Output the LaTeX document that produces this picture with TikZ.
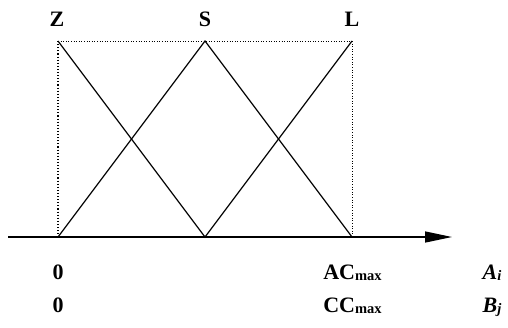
\documentclass[tikz,border=0pt]{standalone}
\usepackage{fontspec}
\setmainfont{Liberation Serif}
\usetikzlibrary{arrows.meta}
\newcommand{\lsub}[1]{\raisebox{-1.5pt}{\fontsize{14.5}{14.5}\selectfont #1}}
\begin{document}
\begin{tikzpicture}[x=1pt,y=-1pt,
  lbl/.style={font=\bfseries\fontsize{22}{24}\selectfont, inner sep=0pt, anchor=base},
  ilbl/.style={lbl, font=\bfseries\itshape\fontsize{22}{24}\selectfont},
  tri/.style={line width=1.2pt},
  dot/.style={dotted, line width=0.6pt}]
\useasboundingbox (0,0) rectangle (508,327);
\coordinate (o) at (58,237);
\coordinate (m) at (205,237);
\coordinate (e) at (352,237);
\coordinate (zt) at (58,41);
\coordinate (st) at (205,41);
\coordinate (lt) at (352,41);
\coordinate (a0) at (8,237);
\coordinate (a1) at (452,237);
\draw[dot] (zt) -- (lt);
\draw[dotted, line width=1.1pt] (zt) -- (o);
\draw[dot] (lt) -- (e);
\draw[tri] (zt) -- (m) -- (lt);
\draw[tri] (o) -- (st) -- (e);
\draw[line width=1.4pt, -{Triangle[length=27pt,width=11pt]}] (a0) -- (a1);
\node[lbl] (Z) at (57,26.5) {Z};
\node[lbl] (S) at (205,26.5) {S};
\node[lbl] (L) at (352,26.5) {L};
\node[lbl] (z1) at (58,279) {0};
\node[lbl] (z2) at (58,312) {0};
\node[lbl] (ac) at (352.5,279) {AC\lsub{max}};
\node[lbl] (cc) at (352.5,312) {CC\lsub{max}};
\node[ilbl] (ai) at (492,279) {A\lsub{\itshape i}};
\node[ilbl] (bj) at (492,312) {B\lsub{\itshape j}};
\end{tikzpicture}
\end{document}
